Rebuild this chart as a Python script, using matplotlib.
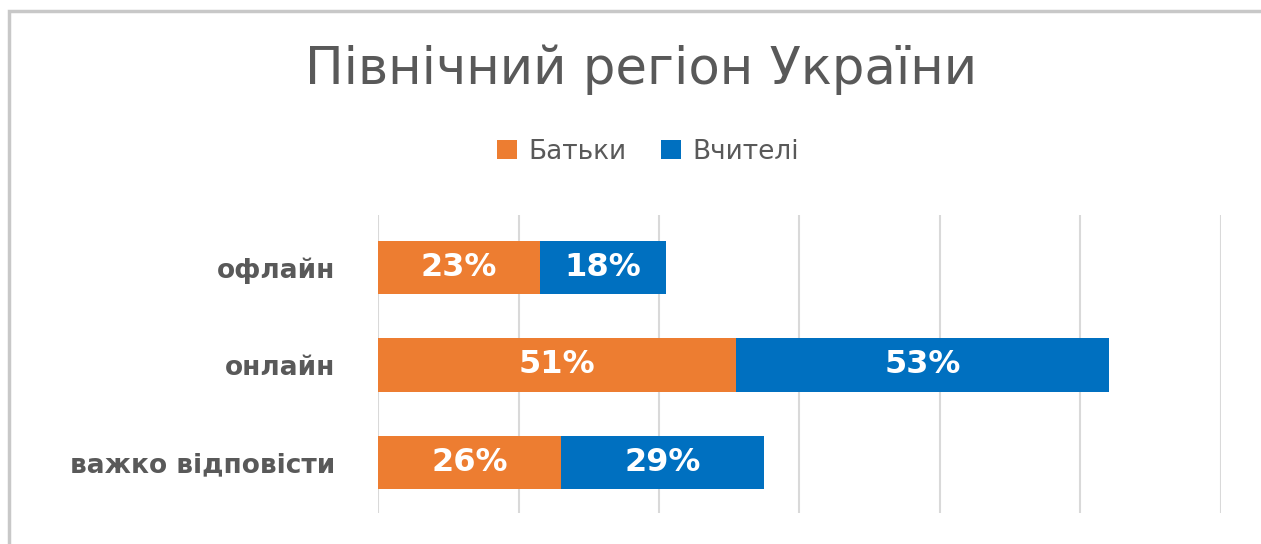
import matplotlib
matplotlib.use('Agg')
import matplotlib.pyplot as plt
from matplotlib.patches import Rectangle
import numpy as np

# Stacked horizontal bars, north region survey
categories = ['офлайн', 'онлайн', 'важко відповісти']
parents = [23, 51, 26]
teachers = [18, 53, 29]
series_names = ['Батьки', 'Вчителі']
title = 'Північний регіон України'

orange = '#ED7D31'
blue = '#0070C0'
text_grey = '#595959'
grid_grey = '#D9D9D9'

W, H = 1261, 544
fig = plt.figure(figsize=(W / 100, H / 100), dpi=100)
plt.rcParams['font.family'] = ['DejaVu Sans']

# chart border (light grey, cropped at right / bottom)
fig.patches.append(Rectangle((9 / W, -0.1), 1.2, 1 - 11 / H + 0.1, transform=fig.transFigure,
                             fill=False, edgecolor='#C8C8C8', linewidth=2.5))

ax = fig.add_axes([378 / W, 1 - 513 / H, (1221 - 378) / W, (513 - 215) / H])

y = np.arange(len(categories))
h = 0.55
b1 = ax.barh(y, parents, height=h, color=orange, zorder=3)
b2 = ax.barh(y, teachers, left=parents, height=h, color=blue, zorder=3)

for bars, vals, lefts in [(b1, parents, [0] * 3), (b2, teachers, parents)]:
    for yi, v, l in zip(y, vals, lefts):
        ax.text(l + v / 2, yi, f'{v}%', ha='center', va='center', color='white',
                fontsize=23, fontweight='bold', zorder=4)

ax.set_xlim(0, 120)
ax.set_ylim(2.52, -0.54)
ax.set_xticks(np.arange(0, 121, 20))
ax.set_xticklabels([])
ax.tick_params(axis='x', length=0)
ax.tick_params(axis='y', length=0, pad=31)
ax.set_yticks(y)
ax.set_yticklabels(categories, fontsize=19, fontweight='bold', color=text_grey)
ax.grid(axis='x', color=grid_grey, linewidth=1.5, zorder=0)
for s in ax.spines.values():
    s.set_visible(False)

fig.text(641 / W, 1 - 70 / H, title, ha='center', va='center', fontsize=37, color=text_grey)

leg = fig.legend([b1, b2], series_names, loc='center', bbox_to_anchor=(648 / W, 1 - 152 / H),
                 ncol=2, frameon=False, fontsize=19, handlelength=0.75, handleheight=0.75,
                 handletextpad=0.45, columnspacing=1.3)
for t in leg.get_texts():
    t.set_color(text_grey)

fig.savefig('out.png', dpi=100)
